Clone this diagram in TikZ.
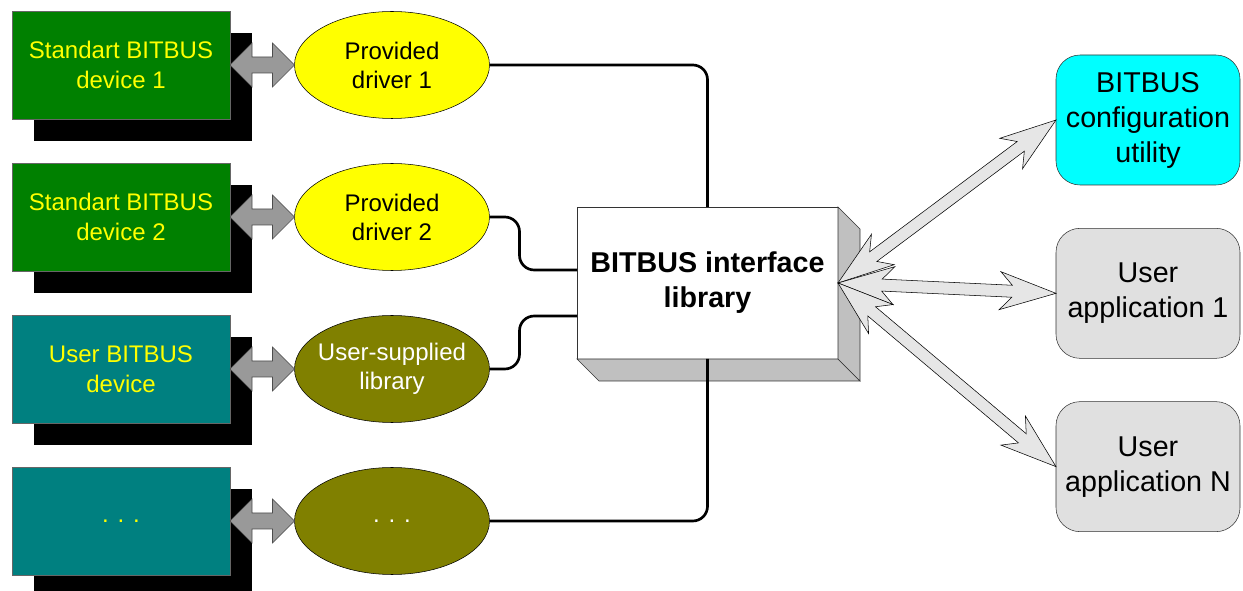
\documentclass[tikz,border=0pt]{standalone}
\usepackage{fontspec}
\setmainfont{Liberation Sans}
\usetikzlibrary{shapes.geometric,shadows,calc}

\definecolor{devgreen}{HTML}{008000}
\definecolor{devteal}{HTML}{008080}
\definecolor{drvyellow}{HTML}{FFFF00}
\definecolor{libolive}{HTML}{808000}
\definecolor{cfgcyan}{HTML}{00FFFF}
\definecolor{appgray}{HTML}{E0E0E0}
\definecolor{sidegray}{HTML}{C0C0C0}
\definecolor{pluggray}{HTML}{999999}
\definecolor{apifill}{HTML}{E6E6E6}

% block arrow with two heads: [style]{from}{to}{head length}{head half width}{shaft half width}{join}
\newcommand{\blockarrow}[7][]{%
  \coordinate (ba1) at ($(#2)!#4!(#3)$);
  \coordinate (ba2) at ($(#2)!#7!(#3)$);
  \coordinate (ba3) at ($(#3)!#7!(#2)$);
  \coordinate (ba4) at ($(#3)!#4!(#2)$);
  \draw [#1] (#2)
    -- ($(ba1)!#5!90:(#3)$) -- ($(ba2)!#6!90:(#3)$)
    -- ($(ba3)!#6!-90:(#2)$) -- ($(ba4)!#5!-90:(#2)$)
    -- (#3)
    -- ($(ba4)!#5!90:(#2)$) -- ($(ba3)!#6!90:(#2)$)
    -- ($(ba2)!#6!-90:(#3)$) -- ($(ba1)!#5!-90:(#3)$)
    -- cycle;}

\begin{document}
\begin{tikzpicture}[
  x=0.75pt, y=-0.75pt,
  node distance = 114pt,
  devbox/.style={rectangle, draw=black!60, thin, outer sep=0pt,
    minimum width=163.5pt, minimum height=81pt, text=drvyellow, align=center,
    font=\fontsize{18}{22.5}\selectfont,
    general shadow={fill=black, shadow xshift=16.5pt, shadow yshift=-16.5pt}},
  drvnode/.style={ellipse, draw=black, thin, outer sep=0pt, inner xsep=-8pt, inner ysep=0pt,
    minimum width=146.25pt, minimum height=80.25pt, align=center,
    font=\fontsize{18}{21.75}\selectfont},
  appnode/.style={rectangle, rounded corners=18pt, draw=black!80, thin, outer sep=0pt,
    minimum width=138pt, minimum height=97.5pt, align=center,
    font=\fontsize{21.5}{26.25}\selectfont},
  apinode/.style={rectangle, draw=black!80, thin, fill=white, outer sep=0pt,
    minimum width=195.75pt, minimum height=114pt, align=center,
    font=\bfseries\fontsize{21.5}{26.25}\selectfont},
  sideface/.style={fill=sidegray, draw=black!80, thin},
  link/.style={line width=2pt, rounded corners=11pt},
  plug/.style={fill=pluggray, draw=black!70, thin},
  apiarw/.style={fill=apifill, draw=black, thin}
  ]

\useasboundingbox (0,0) rectangle (1243,591);

\node [devbox, fill=devgreen] (d1) at (121,65) {Standart BITBUS\\device 1};
\node [devbox, fill=devgreen, below of=d1] (d2) {Standart BITBUS\\device 2};
\node [devbox, fill=devteal, below of=d2] (d3) {User BITBUS\\device};
\node [devbox, fill=devteal, below of=d3] (d4) {. . .};

\node [drvnode, fill=drvyellow, right of=d1, node distance=203.25pt] (e1) {Provided\\driver 1};
\node [drvnode, fill=drvyellow, right of=d2, node distance=203.25pt] (e2) {Provided\\driver 2};
\node [drvnode, fill=libolive, text=white, right of=d3, node distance=203.25pt] (e3) {User-supplied\\library};
\node [drvnode, fill=libolive, text=white, right of=d4, node distance=203.25pt] (e4) {. . .};

\node [apinode] (api) at (707.5,283) {BITBUS interface\\library};
\draw [sideface] (api.south west) -- ++(22,22) -- ++(261,0) -- (api.south east) -- cycle;
\draw [sideface] (api.north east) -- ++(22,22) -- ++(0,152) -- (api.south east) -- cycle;

\node [appnode, fill=cfgcyan] (cfg) at (1148,120) {BITBUS\\configuration\\utility};
\node [appnode, fill=appgray, below of=cfg, node distance=130pt] (app1) {User\\application 1};
\node [appnode, fill=appgray, below of=app1, node distance=130pt] (appN) {User\\application N};

\blockarrow[plug]{d1.east}{e1.west}{16.5pt}{16.5pt}{6pt}{16.5pt}
\blockarrow[plug]{d2.east}{e2.west}{16.5pt}{16.5pt}{6pt}{16.5pt}
\blockarrow[plug]{d3.east}{e3.west}{16.5pt}{16.5pt}{6pt}{16.5pt}
\blockarrow[plug]{d4.east}{e4.west}{16.5pt}{16.5pt}{6pt}{16.5pt}

\draw [link] (e1.east) -| (api.north);
\draw [link] (e2.east) -- ++(30,0) |- ($(api.west)+(0,-13)$);
\draw [link] (e3.east) -- ++(30,0) |- ($(api.west)+(0,33)$);
\draw [link] (e4.east) -| (api.south);

\blockarrow[apiarw]{api.east}{cfg.west}{42pt}{14.25pt}{4.5pt}{33pt}
\blockarrow[apiarw]{api.east}{app1.west}{42pt}{14.25pt}{4.5pt}{33pt}
\blockarrow[apiarw]{api.east}{appN.west}{42pt}{14.25pt}{4.5pt}{33pt}

\end{tikzpicture}
\end{document}
